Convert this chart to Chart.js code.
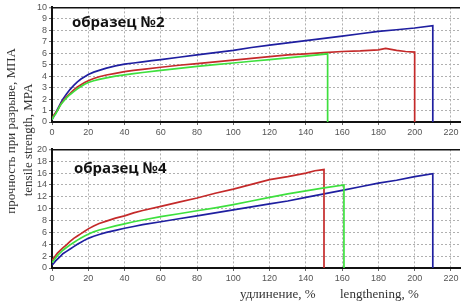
<!DOCTYPE html>
<html>
  <head>
    <meta charset="UTF-8" />
    <title>образец №2 / №4</title>
    <script src="https://cdn.jsdelivr.net/npm/chart.js"></script>
    <style>
      body { margin: 0; background: #fff; width: 464px; height: 304px; position: relative; overflow: hidden; }
      canvas { position: absolute; left: 0; }
      .lbl { position: absolute; white-space: nowrap; }
      .sample { font: bold 15px "Open Sans", sans-serif; color: #111; }
      .ser { font: 13px "Liberation Serif", serif; color: #333; }
      .ytitle { position: absolute; white-space: nowrap; font: 13px "Liberation Serif", serif; color: #333;
                transform: translate(-50%, -50%) rotate(-90deg); }
    </style>
  </head>
  <body>
    <canvas id="chartTop" width="464" height="142" style="top:0"></canvas>
    <canvas id="chartBottom" width="464" height="162" style="top:142px"></canvas>

    <div class="lbl sample" style="left:72px; top:11px">образец №2</div>
    <div class="lbl sample" style="left:74px; top:157px">образец №4</div>
    <div class="lbl ser" style="left:240px; top:286px">удлинение, %</div>
    <div class="lbl ser" style="left:340px; top:286px">lengthening, %</div>
    <div class="ytitle" style="left:11px; top:131px">прочность при разрыве, МПА</div>
    <div class="ytitle" style="left:28px; top:140px">tensile strength, MPA</div>

    <script>
      // образец №2 (elongation %, strength MPa)
      const s2BlueX = [0, 1, 2, 3, 4, 5, 6, 8, 10, 12, 14, 16, 18, 20, 23, 26, 30, 35, 40, 45, 50, 55, 60, 70, 80, 90, 100, 110, 120, 130, 140, 150, 160, 170, 180, 190, 200, 210, 210];
      const s2BlueY = [0.2, 0.5, 0.8, 1.1, 1.4, 1.7, 2.0, 2.45, 2.85, 3.2, 3.5, 3.75, 3.95, 4.15, 4.35, 4.5, 4.7, 4.9, 5.05, 5.15, 5.25, 5.35, 5.45, 5.65, 5.85, 6.05, 6.25, 6.5, 6.7, 6.9, 7.1, 7.3, 7.5, 7.7, 7.9, 8.05, 8.2, 8.4, 0];
      const s2RedX = [0, 1, 2, 3, 4, 5, 6, 8, 10, 12, 14, 16, 18, 20, 23, 26, 30, 35, 40, 45, 50, 60, 70, 80, 90, 100, 110, 120, 130, 140, 150, 160, 170, 180, 184, 190, 195, 200, 200];
      const s2RedY = [0.3, 0.6, 0.8, 1.0, 1.3, 1.6, 1.8, 2.2, 2.5, 2.8, 3.05, 3.25, 3.45, 3.6, 3.8, 3.95, 4.1, 4.25, 4.4, 4.5, 4.6, 4.78, 4.95, 5.1, 5.25, 5.4, 5.55, 5.7, 5.85, 5.95, 6.05, 6.15, 6.2, 6.3, 6.42, 6.25, 6.15, 6.1, 0];
      const s2GreenX = [0, 1, 2, 3, 4, 5, 6, 8, 10, 12, 14, 16, 18, 20, 23, 26, 30, 35, 40, 45, 50, 60, 70, 80, 90, 100, 110, 120, 130, 140, 152, 152];
      const s2GreenY = [0.2, 0.5, 0.7, 1.0, 1.3, 1.55, 1.75, 2.1, 2.4, 2.65, 2.9, 3.1, 3.3, 3.45, 3.6, 3.72, 3.85, 4.0, 4.12, 4.22, 4.32, 4.5, 4.68, 4.85, 5.0, 5.15, 5.3, 5.45, 5.6, 5.75, 5.95, 0];

      // образец №4
      const s4RedX = [0, 1, 2, 3, 4, 5, 6, 8, 10, 12, 14, 16, 18, 20, 23, 26, 30, 35, 40, 45, 50, 60, 70, 80, 90, 100, 110, 120, 130, 140, 145, 150, 150];
      const s4RedY = [1.3, 1.7, 2.1, 2.5, 2.8, 3.1, 3.4, 3.9, 4.5, 5.0, 5.4, 5.8, 6.2, 6.6, 7.1, 7.5, 7.9, 8.4, 8.8, 9.3, 9.7, 10.4, 11.1, 11.8, 12.6, 13.3, 14.1, 14.9, 15.4, 16.0, 16.4, 16.6, 0];
      const s4GreenX = [0, 1, 2, 3, 4, 5, 6, 8, 10, 12, 14, 16, 18, 20, 23, 26, 30, 35, 40, 45, 50, 60, 70, 80, 90, 100, 110, 120, 130, 140, 150, 161, 161];
      const s4GreenY = [0.9, 1.3, 1.7, 2.1, 2.4, 2.7, 3.0, 3.45, 3.9, 4.3, 4.7, 5.05, 5.4, 5.7, 6.1, 6.4, 6.7, 7.1, 7.45, 7.8, 8.1, 8.65, 9.15, 9.65, 10.15, 10.7, 11.3, 11.9, 12.5, 13.0, 13.5, 14.0, 0];
      const s4BlueX = [0, 1, 2, 3, 4, 5, 6, 8, 10, 12, 14, 16, 18, 20, 23, 26, 30, 35, 40, 45, 50, 60, 70, 80, 90, 100, 110, 120, 130, 140, 150, 160, 170, 180, 190, 200, 210, 210];
      const s4BlueY = [0.5, 0.8, 1.2, 1.5, 1.8, 2.1, 2.4, 2.8, 3.2, 3.6, 4.0, 4.35, 4.7, 5.0, 5.35, 5.65, 6.0, 6.35, 6.7, 7.0, 7.3, 7.8, 8.3, 8.8, 9.3, 9.8, 10.3, 10.8, 11.3, 11.9, 12.5, 13.1, 13.7, 14.3, 14.8, 15.4, 15.9, 0];

      const xMax = 225;
      const xStep = 20;

      function pts(xs, ys) {
        return xs.map((x, i) => ({ x: x, y: ys[i] }));
      }

      function line(xs, ys, color) {
        return {
          data: pts(xs, ys),
          borderColor: color,
          borderWidth: 1.7,
          pointRadius: 0,
          tension: 0,
          fill: false,
          showLine: true
        };
      }

      const tickFont = { family: "Liberation Sans", size: 9 };

      function makeChart(id, datasets, yMax, yStep, padTop, xHeight) {
        return new Chart(document.getElementById(id), {
          type: "scatter",
          data: { datasets: datasets },
          options: {
            responsive: false,
            animation: false,
            layout: { padding: { top: padTop, right: 4, left: 0, bottom: 0 } },
            plugins: { legend: { display: false }, tooltip: { enabled: false } },
            scales: {
              x: {
                min: 0, max: xMax,
                afterFit: s => { s.height = xHeight; },
                ticks: { stepSize: xStep, includeBounds: false, autoSkip: false, font: tickFont, color: "#555", padding: 2, maxRotation: 0 },
                grid: { color: "#b0b0b0", tickColor: "#666", tickLength: 3, tickWidth: 1 },
                border: { color: "#111", width: 2, dash: [2, 2] }
              },
              y: {
                min: 0, max: yMax,
                afterFit: s => { s.width = 52; },
                ticks: { stepSize: yStep, autoSkip: false, font: tickFont, color: "#555", padding: 2 },
                grid: {
                  color: c => (c.tick && c.tick.value === yMax ? "#111" : "#b0b0b0"),
                  lineWidth: c => (c.tick && c.tick.value === yMax ? 1.5 : 1),
                  tickColor: "#666", tickLength: 3, tickWidth: 1
                },
                border: { color: "#111", width: 2, dash: c => (c.tick && c.tick.value === yMax ? [] : [2, 2]) }
              }
            }
          }
        });
      }

      makeChart("chartTop", [
        line(s2GreenX, s2GreenY, "#3ee03e"),
        line(s2RedX, s2RedY, "#c42a2a"),
        line(s2BlueX, s2BlueY, "#1f1fa0")
      ], 10, 1, 4, 20);

      makeChart("chartBottom", [
        line(s4GreenX, s4GreenY, "#3ee03e"),
        line(s4RedX, s4RedY, "#c42a2a"),
        line(s4BlueX, s4BlueY, "#1f1fa0")
      ], 20, 2, 5, 36);
    </script>
  </body>
</html>
